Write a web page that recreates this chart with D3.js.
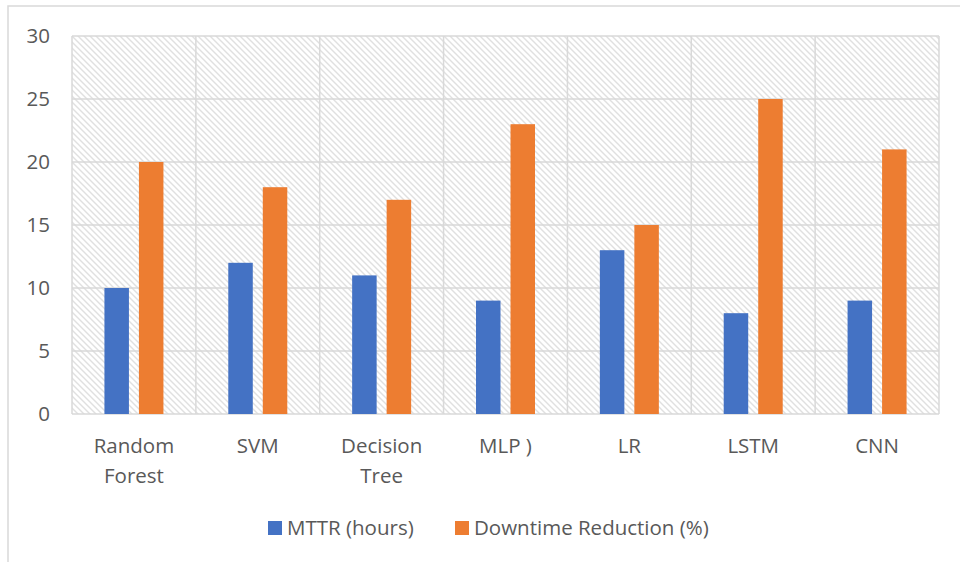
<!DOCTYPE html>
<html>
<head>
<meta charset="utf-8">
<script src="https://cdn.jsdelivr.net/npm/d3@7"></script>
<style>
  body { margin: 0; background: #fff; }
  svg text { font-family: "Open Sans", sans-serif; fill: #595959; }
</style>
</head>
<body>
<div id="app"></div>
<script>
const categories = [['Random', 'Forest'], ['SVM'], ['Decision', 'Tree'], ['MLP )'], ['LR'], ['LSTM'], ['CNN']];
const mttr = [10, 12, 11, 9, 13, 8, 9];
const downtime = [20, 18, 17, 23, 15, 25, 21];
const seriesNames = ['MTTR (hours)', 'Downtime Reduction (%)'];
const colors = ['#4472c4', '#ed7d31'];
const yTicks = [0, 5, 10, 15, 20, 25, 30];

const width = 960, height = 562;
const plot = { left: 72, right: 939, top: 36, bottom: 414 };
const fontSize = 20.5;

const svg = d3.select('#app').append('svg')
  .attr('width', width)
  .attr('height', height);

// hatch pattern for plot background
const defs = svg.append('defs');
const pat = defs.append('pattern')
  .attr('id', 'hatch')
  .attr('patternUnits', 'userSpaceOnUse')
  .attr('width', 6)
  .attr('height', 6);
pat.append('rect').attr('width', 6).attr('height', 6).attr('fill', '#fff');
pat.append('path')
  .attr('d', 'M-1,-1 L7,7 M-1,5 L1,7 M5,-1 L7,1')
  .attr('stroke', '#e0e0e0')
  .attr('stroke-width', 1.4);

// outer chart frame (clipped at right/bottom)
svg.append('rect')
  .attr('x', 8).attr('y', 6)
  .attr('width', 1000).attr('height', 1000)
  .attr('fill', 'none')
  .attr('stroke', '#d9d9d9')
  .attr('stroke-width', 1.5);

const keys = categories.map((c, i) => i);
const x0 = d3.scaleBand().domain(keys).range([plot.left, plot.right]);
const x1 = d3.scaleBand().domain([0, 1]).range([0, 59]).paddingInner(0.29);
const y = d3.scaleLinear().domain([0, 30]).range([plot.bottom, plot.top]);

svg.append('rect')
  .attr('x', plot.left).attr('y', plot.top)
  .attr('width', plot.right - plot.left)
  .attr('height', plot.bottom - plot.top)
  .attr('fill', 'url(#hatch)');

// gridlines
svg.append('g')
  .selectAll('line')
  .data(yTicks)
  .join('line')
  .attr('x1', plot.left).attr('x2', plot.right)
  .attr('y1', d => y(d)).attr('y2', d => y(d))
  .attr('stroke', '#d9d9d9').attr('stroke-width', 1.5);

svg.append('g')
  .selectAll('line')
  .data(keys.concat([keys.length]))
  .join('line')
  .attr('x1', d => d < keys.length ? x0(d) : plot.right)
  .attr('x2', d => d < keys.length ? x0(d) : plot.right)
  .attr('y1', plot.top).attr('y2', plot.bottom)
  .attr('stroke', '#d9d9d9').attr('stroke-width', 1.5);

// y labels
svg.append('g')
  .selectAll('text')
  .data(yTicks)
  .join('text')
  .attr('x', 50)
  .attr('y', d => y(d))
  .attr('dy', '0.35em')
  .attr('text-anchor', 'end')
  .attr('font-size', fontSize)
  .text(d => d);

// bars
const offset = (x0.bandwidth() - 59) / 2;
const groups = svg.append('g')
  .selectAll('g')
  .data(keys)
  .join('g')
  .attr('transform', d => `translate(${x0(d) + offset},0)`);

groups.selectAll('rect')
  .data(i => [mttr[i], downtime[i]])
  .join('rect')
  .attr('x', (d, j) => x1(j))
  .attr('width', x1.bandwidth())
  .attr('y', d => y(d))
  .attr('height', d => y(0) - y(d))
  .attr('fill', (d, j) => colors[j]);

// category labels
svg.append('g')
  .selectAll('text')
  .data(keys)
  .join('text')
  .attr('x', d => x0(d) + x0.bandwidth() / 2)
  .attr('y', 453)
  .attr('text-anchor', 'middle')
  .attr('font-size', fontSize)
  .each(function (d) {
    d3.select(this).selectAll('tspan')
      .data(categories[d])
      .join('tspan')
      .attr('x', x0(d) + x0.bandwidth() / 2)
      .attr('dy', (t, k) => k === 0 ? 0 : 29.5)
      .text(t => t);
  });

// legend
const legendX = [268, 455];
const legend = svg.append('g')
  .selectAll('g')
  .data(seriesNames)
  .join('g')
  .attr('transform', (d, i) => `translate(${legendX[i]},521)`);
legend.append('rect')
  .attr('width', 14).attr('height', 14)
  .attr('fill', (d, i) => colors[i]);
legend.append('text')
  .attr('x', 19).attr('y', 7)
  .attr('dy', '0.35em')
  .attr('font-size', fontSize)
  .text(d => d);
</script>
</body>
</html>
